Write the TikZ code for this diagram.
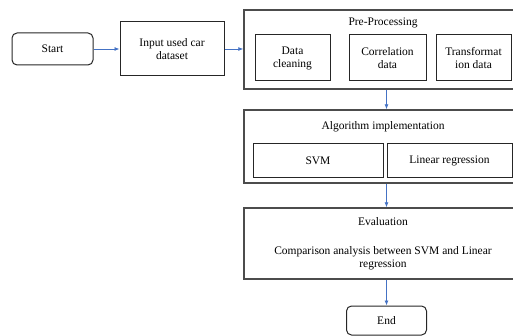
\documentclass[tikz,border=0pt]{standalone}
\usepackage{fontspec}
\setmainfont{Liberation Serif}
\newfontfamily\flowfont{Liberation Serif}
\usepackage{xcolor}
\usetikzlibrary{arrows.meta}
\definecolor{flowblue}{RGB}{68,114,196}
\tikzset{
  flow/.style={draw=flowblue, line width=0.8pt, -{Latex[length=5pt,width=4pt]}},
  box/.style={draw=black!85, line width=1pt, align=center, inner sep=0pt},
  term/.style={box, rounded corners=5pt},
  outerbox/.style={draw=black!70, line width=1.4pt, inner sep=0pt},
  title/.style={inner sep=0pt, align=center}
}
\begin{document}
\begin{tikzpicture}[x=1pt,y=-1pt,font=\flowfont\fontsize{11.5}{13}\selectfont]
        \useasboundingbox (0,0) rectangle (513,336);
        % start and input
        \node[term, minimum width=81pt, minimum height=32pt] (start) at (52.5,49) {Start};
        \node[box, minimum width=104pt, minimum height=54pt] (input) at (172,49) {Input used car\\dataset};
        % pre-processing
        \node[outerbox, minimum width=276pt, minimum height=79pt] (pre) at (382,49.5) {};
        \node[title] (pretitle) at (383,23) {Pre-Processing};
        \node[box, minimum width=75pt, minimum height=46pt] (clean) at (292.5,58) {Data\\cleaning};
        \node[box, minimum width=77pt, minimum height=46pt] (corr) at (387.5,58) {Correlation\\data};
        \node[box, minimum width=75pt, minimum height=46pt] (trans) at (473.5,58) {Transformat\\ion data};
        % algorithm
        \node[outerbox, minimum width=276pt, minimum height=73pt] (algo) at (382,146.5) {};
        \node[title] (algotitle) at (383,127) {Algorithm implementation};
        \node[box, minimum width=130pt, minimum height=34pt] (svm) at (318,161) {SVM};
        \node[box, minimum width=125pt, minimum height=34pt] (linreg) at (449.5,161) {Linear regression};
        % evaluation
        \node[outerbox, minimum width=276pt, minimum height=71pt] (eval) at (382,243.5) {};
        \node[title] (evaltitle) at (383,222) {Evaluation};
        \node[title] (evaltext) at (383,258.5) {Comparison analysis between SVM and Linear\\regression};
        % end
        \node[term, minimum width=80pt, minimum height=29pt] (endb) at (386.5,320.5) {End};
        % arrows
        \draw[flow] (start.east) -- (input.west);
        \draw[flow] (input.east) -- (input.east -| pre.west);
        \draw[flow] (pre.south -| endb.north) -- (algo.north -| endb.north);
        \draw[flow] (algo.south -| endb.north) -- (eval.north -| endb.north);
        \draw[flow] (eval.south -| endb.north) -- (endb.north);
\end{tikzpicture}
\end{document}
